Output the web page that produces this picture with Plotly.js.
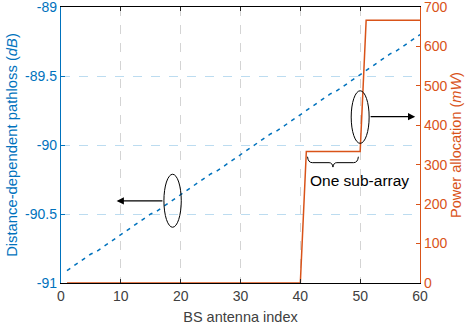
<!DOCTYPE html>
<html>
<head>
<meta charset="utf-8">
<script src="https://cdn.plot.ly/plotly-3.0.1.min.js"></script>
<style>html,body{margin:0;padding:0;background:#fff;}#chart{width:467px;height:331px;}</style>
</head>
<body>
<div id="chart"></div>
<script>
// Antenna index 1..60
const antennaIndex = [1,2,3,4,5,6,7,8,9,10,11,12,13,14,15,16,17,18,19,20,21,22,23,24,25,26,27,28,29,30,
  31,32,33,34,35,36,37,38,39,40,41,42,43,44,45,46,47,48,49,50,51,52,53,54,55,56,57,58,59,60];
// Distance-dependent pathloss (dB)
const pathlossDB = [-90.91,-90.88,-90.85,-90.82,-90.79,-90.77,-90.74,-90.71,-90.68,-90.65,
  -90.62,-90.59,-90.56,-90.53,-90.50,-90.48,-90.45,-90.42,-90.39,-90.36,
  -90.33,-90.30,-90.27,-90.24,-90.21,-90.19,-90.16,-90.13,-90.10,-90.07,
  -90.04,-90.01,-89.98,-89.95,-89.92,-89.90,-89.87,-89.84,-89.81,-89.78,
  -89.75,-89.72,-89.69,-89.66,-89.63,-89.61,-89.58,-89.55,-89.52,-89.49,
  -89.46,-89.43,-89.40,-89.37,-89.34,-89.32,-89.29,-89.26,-89.23,-89.20];
// Power allocation (mW)
const powerMW = [0,0,0,0,0,0,0,0,0,0,0,0,0,0,0,0,0,0,0,0,
  0,0,0,0,0,0,0,0,0,0,0,0,0,0,0,0,0,0,0,0,
  333.3,333.3,333.3,333.3,333.3,333.3,333.3,333.3,333.3,333.3,
  666.7,666.7,666.7,666.7,666.7,666.7,666.7,666.7,666.7,666.7];

const xTicks = [0,10,20,30,40,50,60];
const yTicks = [-91,-90.5,-90,-89.5,-89];
const yTickText = ['-91','-90.5','-90','-89.5','-89'];
const y2Ticks = [0,100,200,300,400,500,600,700];

const blue = '#0072BD';
const orange = '#D95319';
const font = 'Liberation Sans, Arial, sans-serif';

const traces = [
  {x: antennaIndex, y: pathlossDB, type: 'scatter', mode: 'lines',
   line: {color: blue, width: 1.5, dash: '4px,5px'}, yaxis: 'y', hoverinfo: 'skip'},
  {x: antennaIndex, y: powerMW, type: 'scatter', mode: 'lines',
   line: {color: orange, width: 1.5}, yaxis: 'y2', hoverinfo: 'skip'}
];

const layout = {
  width: 467, height: 331,
  margin: {l: 61, r: 47, t: 7, b: 48, pad: 0},
  paper_bgcolor: '#fff', plot_bgcolor: '#fff',
  showlegend: false,
  font: {family: font, size: 14, color: '#404040'},
  xaxis: {
    range: [0, 60], tickvals: xTicks, ticktext: xTicks.map(String),
    showline: true, linecolor: '#000', linewidth: 1, mirror: 'ticks',
    ticks: 'inside', ticklen: 4, tickcolor: '#262626',
    showgrid: true, gridcolor: '#d4d4d4', griddash: 'dash', gridwidth: 1,
    zeroline: false, tickfont: {size: 14, color: '#404040'}, ticklabeloverflow: 'allow',
    title: {text: 'BS antenna index', font: {size: 14.5, color: '#404040'}, standoff: 9}
  },
  yaxis: {
    range: [-91, -89], tickvals: yTicks, ticktext: yTickText,
    showline: true, linecolor: blue, linewidth: 1.2,
    ticks: 'inside', ticklen: 4, tickcolor: blue,
    showgrid: true, gridcolor: '#bcdcf0', griddash: 'dash', gridwidth: 1,
    zeroline: false, tickfont: {size: 14, color: blue}, ticklabeloverflow: 'allow',
    title: {text: 'Distance-dependent pathloss (<i>dB</i>)', font: {size: 14.8, color: blue}, standoff: 3}
  },
  yaxis2: {
    range: [0, 700], tickvals: y2Ticks, ticktext: y2Ticks.map(String),
    overlaying: 'y', side: 'right',
    showline: true, linecolor: orange, linewidth: 1.2,
    ticks: 'inside', ticklen: 4, tickcolor: orange,
    showgrid: false, zeroline: false, tickfont: {size: 14, color: orange}, ticklabeloverflow: 'allow',
    title: {text: 'Power allocation (<i>mW</i>)', font: {size: 14.5, color: orange}, standoff: 4}
  },
  shapes: [
    {type: 'circle', xref: 'x', yref: 'y', x0: 17.2, x1: 20.1, y0: -90.596, y1: -90.212,
     line: {color: '#000', width: 1}},
    {type: 'circle', xref: 'x', yref: 'y', x0: 48.5, x1: 51.5, y0: -89.988, y1: -89.607,
     line: {color: '#000', width: 1}},
    {type: 'path', xref: 'x', yref: 'y',
     path: 'M 41.2,-90.085 Q 41.3,-90.128 42.0,-90.128 L 44.8,-90.128 Q 45.35,-90.128 45.45,-90.16 Q 45.55,-90.128 46.1,-90.128 L 48.9,-90.128 Q 49.6,-90.128 49.7,-90.085',
     line: {color: '#000', width: 1}}
  ],
  annotations: [
    {x: 9.3, y: -90.405, xref: 'x', yref: 'y', ax: 17.2, ay: -90.405, axref: 'x', ayref: 'y',
     showarrow: true, arrowhead: 2, arrowsize: 1.2, arrowwidth: 1.2, arrowcolor: '#000', text: ''},
    {x: 59.2, y: -89.795, xref: 'x', yref: 'y', ax: 51.5, ay: -89.795, axref: 'x', ayref: 'y',
     showarrow: true, arrowhead: 2, arrowsize: 1.2, arrowwidth: 1.2, arrowcolor: '#000', text: ''},
    {x: 41.2, y: -90.254, xref: 'x', yref: 'y', text: 'One sub-array', showarrow: false,
     font: {size: 15.5, color: '#000'}, xanchor: 'left', yanchor: 'middle'}
  ]
};

Plotly.newPlot('chart', traces, layout, {staticPlot: true, displayModeBar: false});
</script>
</body>
</html>
